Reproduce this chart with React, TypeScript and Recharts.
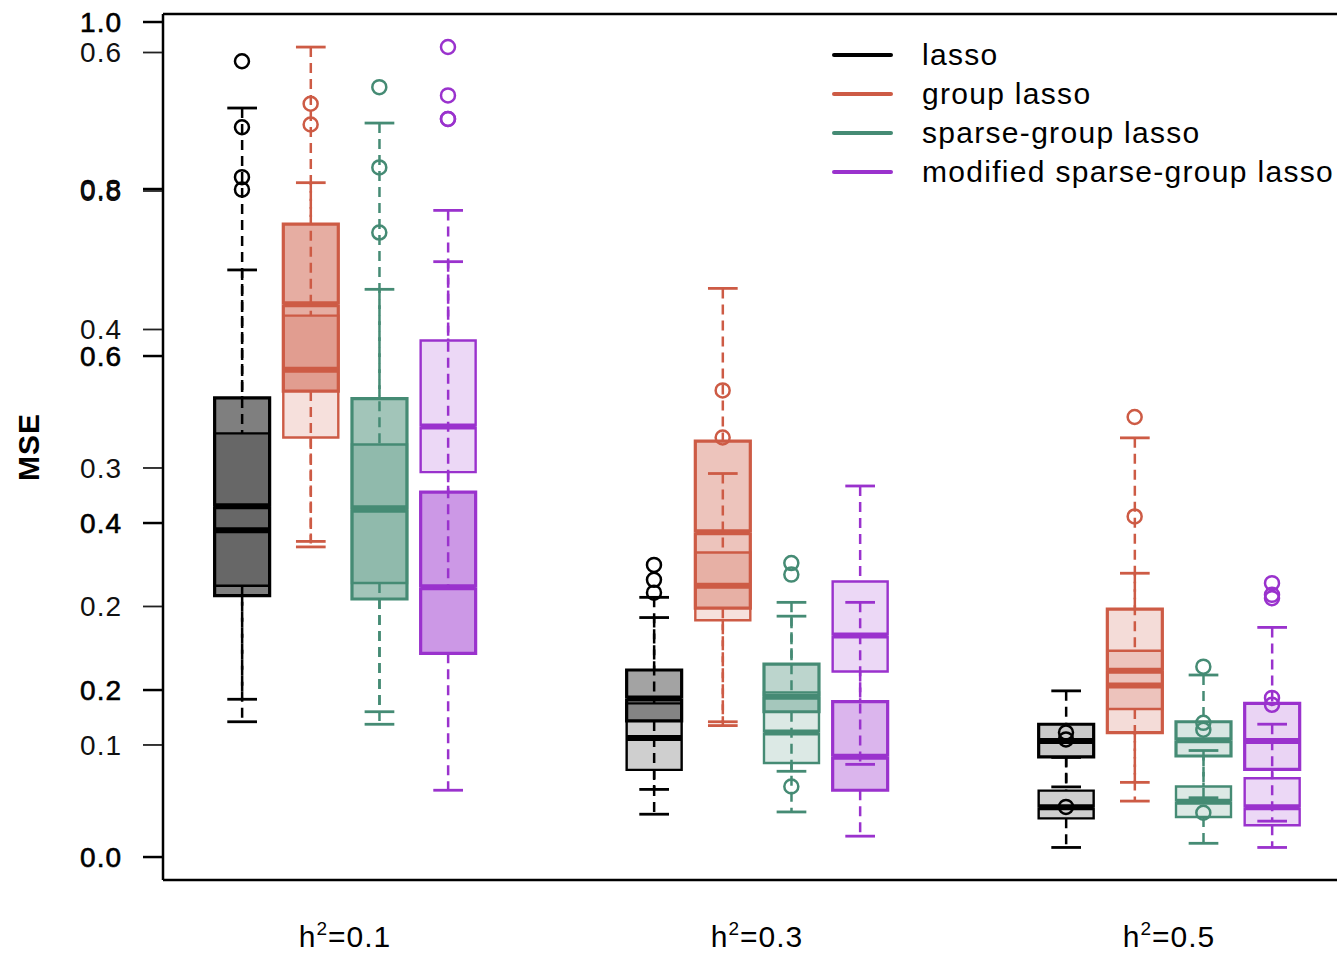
import { ComposedChart, Bar, Scatter, XAxis, YAxis, Legend, Label } from "recharts";

const methods = ["lasso", "group lasso", "sparse-group lasso", "modified sparse-group lasso"];
const heritability = ["0.1", "0.3", "0.5"];
const colors = ["#000000", "#CD5B45", "#458B74", "#9A32CD"];

// boxes are ordered h2=0.1 (lasso, group, sparse-group, modified), then h2=0.3, then h2=0.5

// set A, read on the outer scale (0.0 - 1.0)
const loA = [0.162, 0.378, 0.159, 0.08, 0.081, 0.162, 0.054, 0.025, 0.084, 0.067, 0.071, 0.043];
const q1A = [0.313, 0.558, 0.309, 0.244, 0.163, 0.298, 0.174, 0.08, 0.12, 0.149, 0.121, 0.105];
const medA = [0.42, 0.662, 0.416, 0.323, 0.19, 0.389, 0.192, 0.12, 0.139, 0.223, 0.14, 0.139];
const q3A = [0.55, 0.758, 0.549, 0.437, 0.224, 0.498, 0.231, 0.186, 0.159, 0.297, 0.162, 0.184];
const hiA = [0.897, 0.97, 0.879, 0.713, 0.311, 0.681, 0.305, 0.305, 0.199, 0.502, 0.218, 0.275];
const outA = [
  [0.953], [], [0.922], [0.884],
  [0.332], [], [0.352], [],
  [0.06], [0.527], [0.228, 0.053], [0.328, 0.314, 0.31],
];

// set B, read on the inner scale (0.1 - 0.6)
const loB = [0.133, 0.243, 0.124, 0.213, 0.05, 0.114, 0.081, 0.086, 0.026, 0.073, 0.029, 0.026];
const q1B = [0.215, 0.322, 0.217, 0.297, 0.082, 0.19, 0.087, 0.153, 0.047, 0.126, 0.048, 0.042];
const medB = [0.255, 0.371, 0.271, 0.33, 0.105, 0.215, 0.109, 0.179, 0.055, 0.143, 0.059, 0.055];
const q3B = [0.325, 0.41, 0.317, 0.392, 0.13, 0.239, 0.138, 0.218, 0.067, 0.168, 0.07, 0.076];
const hiB = [0.443, 0.506, 0.429, 0.486, 0.192, 0.296, 0.193, 0.287, 0.091, 0.224, 0.096, 0.115];
const outB = [
  [0.546, 0.51, 0.501], [0.563, 0.548], [0.517, 0.47], [0.604, 0.569, 0.552],
  [0.23, 0.21], [0.356, 0.322], [0.223, 0.07], [],
  [0.109, 0.104], [0.265], [0.116, 0.111], [0.134, 0.129],
];

const ticksA = [0, 0.2, 0.4, 0.6, 0.8, 1.0];
const ticksB = [0.1, 0.2, 0.3, 0.4, 0.5, 0.6];

// layout / style
const X_MIN = -0.15;
const X_MAX = 17.063;
const DOMAIN_A: [number, number] = [-0.0275, 1.0096];
const DOMAIN_B: [number, number] = [0.0025, 0.6278];
const alphaA = [0.5, 0.36, 0.21];
const alphaB = 0.19;
const FONT = "'Liberation Sans', Arial, Helvetica, sans-serif";

const rows = loA.map((_, i) => {
  const g = Math.floor(i / 4);
  const m = i % 4;
  return {
    pos: g * 6 + m + 1,
    g,
    m,
    aBase: loA[i],
    aWl: q1A[i] - loA[i],
    aBl: medA[i] - q1A[i],
    aBh: q3A[i] - medA[i],
    aWh: hiA[i] - q3A[i],
    bBase: loB[i],
    bWl: q1B[i] - loB[i],
    bBl: medB[i] - q1B[i],
    bBh: q3B[i] - medB[i],
    bWh: hiB[i] - q3B[i],
  };
});

const pointsA = outA.flatMap((vals, i) => vals.map((v) => ({ pos: rows[i].pos, val: v, m: rows[i].m })));
const pointsB = outB.flatMap((vals, i) => vals.map((v) => ({ pos: rows[i].pos, val: v, m: rows[i].m })));

const groupTicks = heritability.map((_, g) => g * 6 + 2.5);

type Part = "base" | "wl" | "bl" | "bh" | "wh";

const makeShape = (set: "A" | "B", part: Part) => (p: any) => {
  const { x, y, width, height, payload } = p;
  if (part === "base" || x == null || y == null) return <g />;
  const c = colors[payload.m];
  const cx = x + width / 2;
  const cap = width * 0.27;
  const lw = set === "A" ? 3.2 : 2.4;
  const alpha = set === "A" ? alphaA[payload.g] : alphaB;
  if (part === "wl" || part === "wh") {
    const capY = part === "wl" ? y + height : y;
    return (
      <g>
        <line x1={cx} x2={cx} y1={y} y2={y + height} stroke={c} strokeWidth={2.5} strokeDasharray="10 6" />
        <line x1={cx - cap} x2={cx + cap} y1={capY} y2={capY} stroke={c} strokeWidth={2.8} />
      </g>
    );
  }
  if (part === "bl") {
    return (
      <g>
        <rect x={x} y={y} width={width} height={height} fill={c} fillOpacity={alpha} />
        <path d={`M${x},${y}V${y + height}H${x + width}V${y}`} fill="none" stroke={c} strokeWidth={lw} />
      </g>
    );
  }
  return (
    <g>
      <rect x={x} y={y} width={width} height={height} fill={c} fillOpacity={alpha} />
      <path d={`M${x},${y + height}V${y}H${x + width}V${y + height}`} fill="none" stroke={c} strokeWidth={lw} />
      <line x1={x} x2={x + width} y1={y + height} y2={y + height} stroke={c} strokeWidth={6} />
    </g>
  );
};

const outlierShape = (p: any) => (
  <circle cx={p.cx} cy={p.cy} r={7} fill="none" stroke={colors[p.payload.m]} strokeWidth={2.5} />
);

const GroupTick = (p: any) => {
  const idx = groupTicks.indexOf(p.payload.value);
  return (
    <text x={p.x} y={p.y + 67} textAnchor="middle" fontSize={30} letterSpacing={1} fill="#000">
      <tspan>h</tspan>
      <tspan dy={-12} fontSize={19}>2</tspan>
      <tspan dy={12}>={heritability[idx]}</tspan>
    </text>
  );
};

const LegendBox = () => (
  <div style={{ display: "flex", flexDirection: "column", whiteSpace: "nowrap" }}>
    {methods.map((m, i) => (
      <div key={m} style={{ display: "flex", alignItems: "center", height: 39 }}>
        <span style={{ width: 61, height: 4, background: colors[i], borderRadius: 2 }} />
        <span style={{ marginLeft: 29, fontSize: 30, letterSpacing: 1.3, color: "#000", lineHeight: "39px" }}>
          {m}
        </span>
      </div>
    ))}
  </div>
);

const parts: Part[] = ["base", "wl", "bl", "bh", "wh"];
const keysA = ["aBase", "aWl", "aBl", "aBh", "aWh"];
const keysB = ["bBase", "bWl", "bBl", "bBh", "bWh"];

export default function App() {
  return (
    <div style={{ position: "absolute", left: 0, top: 0, width: 1337, height: 953, overflow: "hidden", background: "#fff", fontFamily: FONT }}>
      <ComposedChart
        width={1345}
        height={953}
        data={rows}
        barSize={55}
        margin={{ top: 13, right: 0, bottom: 33, left: 161 }}
      >
        <XAxis
          xAxisId="a"
          dataKey="pos"
          type="number"
          domain={[X_MIN, X_MAX]}
          allowDataOverflow
          ticks={groupTicks}
          interval={0}
          tick={GroupTick}
          tickLine={false}
          tickSize={0}
          tickMargin={0}
          height={40}
          axisLine={{ stroke: "#000", strokeWidth: 2.5 }}
        />
        <XAxis xAxisId="b" dataKey="pos" type="number" domain={[X_MIN, X_MAX]} allowDataOverflow hide />
        <XAxis
          xAxisId="top"
          orientation="top"
          type="number"
          domain={[X_MIN, X_MAX]}
          allowDataOverflow
          tick={false}
          tickLine={false}
          height={1}
          axisLine={{ stroke: "#000", strokeWidth: 2.5 }}
        />
        <YAxis
          yAxisId="a"
          type="number"
          width={1}
          domain={DOMAIN_A}
          allowDataOverflow
          ticks={ticksA}
          interval={0}
          tickFormatter={(v: number) => v.toFixed(1)}
          tickSize={20}
          tickMargin={21}
          axisLine={{ stroke: "#000", strokeWidth: 2.5 }}
          tickLine={{ stroke: "#000", strokeWidth: 2.5 }}
          tick={{ fontSize: 28, fill: "#000", stroke: "#000", strokeWidth: 0.6, letterSpacing: 1 }}
        >
          <Label
            content={(p: any) => {
              const vb = p.viewBox;
              const lx = vb.x + vb.width - 135;
              const ly = vb.y + vb.height / 2;
              return (
                <text
                  x={lx}
                  y={ly}
                  transform={`rotate(-90 ${lx} ${ly})`}
                  textAnchor="middle"
                  dominantBaseline="central"
                  fontSize={30}
                  fontWeight="bold"
                  letterSpacing={1}
                  fill="#000"
                >
                  MSE
                </text>
              );
            }}
          />
        </YAxis>
        <YAxis
          yAxisId="b"
          type="number"
          width={1}
          domain={DOMAIN_B}
          allowDataOverflow
          ticks={ticksB}
          interval={0}
          tickFormatter={(v: number) => v.toFixed(1)}
          tickSize={19}
          tickMargin={21}
          axisLine={false}
          tickLine={{ stroke: "#222", strokeWidth: 1.8 }}
          tick={{ fontSize: 28, fill: "#111", letterSpacing: 1 }}
        />

        {parts.map((part, k) => (
          <Bar
            key={`a-${part}`}
            xAxisId="a"
            yAxisId="a"
            stackId="a"
            dataKey={keysA[k]}
            shape={makeShape("A", part)}
            isAnimationActive={false}
          />
        ))}
        {parts.map((part, k) => (
          <Bar
            key={`b-${part}`}
            xAxisId="b"
            yAxisId="b"
            stackId="b"
            dataKey={keysB[k]}
            shape={makeShape("B", part)}
            isAnimationActive={false}
          />
        ))}
        <Scatter xAxisId="a" yAxisId="a" data={pointsA} dataKey="val" shape={outlierShape} isAnimationActive={false} />
        <Scatter xAxisId="b" yAxisId="b" data={pointsB} dataKey="val" shape={outlierShape} isAnimationActive={false} />

        <Legend
          layout="vertical"
          align="center"
          verticalAlign="middle"
          content={() => <LegendBox />}
          wrapperStyle={{ top: 35, left: 832, width: 520, bottom: "auto", right: "auto" }}
        />
      </ComposedChart>
    </div>
  );
}
